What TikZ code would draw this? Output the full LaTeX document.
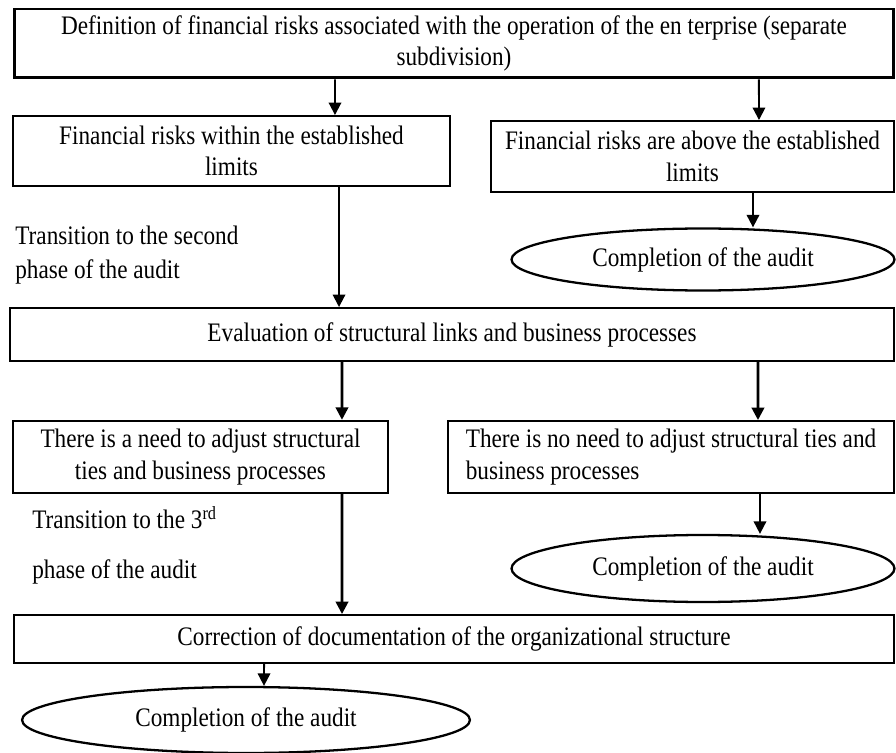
\documentclass[tikz,border=0pt]{standalone}
\usepackage{fontspec}
\setmainfont{Liberation Serif}[FakeStretch=0.87]
\usetikzlibrary{arrows.meta,shapes.geometric}

\begin{document}
\begin{tikzpicture}[
			x=0.02cm, y=-0.02cm,
			txt/.style={font=\fontsize{15.2}{18}\selectfont},
			box/.style={rectangle, draw=black, line width=1.1pt, align=center, inner sep=0pt, txt},
			oval/.style={ellipse, draw=black, line width=1.3pt, inner sep=0pt, minimum width=7.66cm, minimum height=1.24cm, txt},
			note/.style={anchor=west, inner sep=0pt, txt},
			arrow/.style={-{Triangle[length=0.25cm,width=0.25cm]}, line width=1.1pt},
			heavy/.style={arrow, line width=1.5pt}
		]
		\useasboundingbox (0,0) rectangle (896,753);

		% Stage 1
		\node[box, line width=1.7pt, minimum width=17.6cm, minimum height=1.38cm] (def) at (454,43.5) {Definition of financial risks associated with the operation of the en terprise (separate\\subdivision)};
		\node[box, minimum width=8.74cm, minimum height=1.4cm] (within) at (231.5,151) {Financial risks within the established\\limits};
		\node[box, minimum width=8.06cm, minimum height=1.42cm] (above) at (692.5,156.5) {Financial risks are above the established\\limits};
		\node[oval] (end1) at (703,259.5) {Completion of the audit};
		\node[note] (ph2a) at (15,235) {Transition to the second};
		\node[note] (ph2b) at (15,272) {phase of the audit};

		% Stage 2
		\node[box, minimum width=17.68cm, minimum height=1.06cm] (eval) at (452,334.5) {Evaluation of structural links and business processes};
		\node[box, line width=1.4pt, minimum width=7.5cm, minimum height=1.44cm] (need) at (200.5,457) {There is a need to adjust structural\\ties and business processes};
		\node[box, align=left, minimum width=8.92cm, minimum height=1.44cm] (noneed) at (671,457) {There is no need to adjust structural ties and\\business processes};
		\node[oval, minimum height=1.34cm] (end2) at (703,568.5) {Completion of the audit};
		\node[note] (ph3a) at (32,518) {Transition to the 3\textsuperscript{rd}};
		\node[note] (ph3b) at (32,572) {phase of the audit};

		% Stage 3
		\node[box, minimum width=17.6cm, minimum height=0.96cm] (corr) at (454,639) {Correction of documentation of the organizational structure};
		\node[oval, minimum width=8.96cm, minimum height=1.32cm] (end3) at (246,720) {Completion of the audit};

		% Arrows
		\draw[arrow] ([xshift=-2.38cm]def.south) -- ([xshift=2.07cm]within.north);
		\draw[arrow] ([xshift=6.1cm]def.south) -- ([xshift=1.33cm]above.north);
		\draw[arrow] ([xshift=1.21cm]above.south) -- ([xshift=1cm]end1.north);
		\draw[arrow] ([xshift=2.15cm]within.south) -- ([xshift=-2.26cm]eval.north);
		\draw[heavy] ([xshift=-2.2cm]eval.south) -- ([xshift=2.83cm]need.north);
		\draw[heavy] ([xshift=6.12cm]eval.south) -- ([xshift=1.74cm]noneed.north);
		\draw[arrow] ([xshift=1.78cm]noneed.south) -- ([xshift=1.14cm]end2.north);
		\draw[heavy] ([xshift=2.83cm]need.south) -- ([xshift=-2.24cm]corr.north);
		\draw[arrow] ([xshift=-3.8cm]corr.south) -- ([xshift=0.36cm]end3.north);

	\end{tikzpicture}
\end{document}
